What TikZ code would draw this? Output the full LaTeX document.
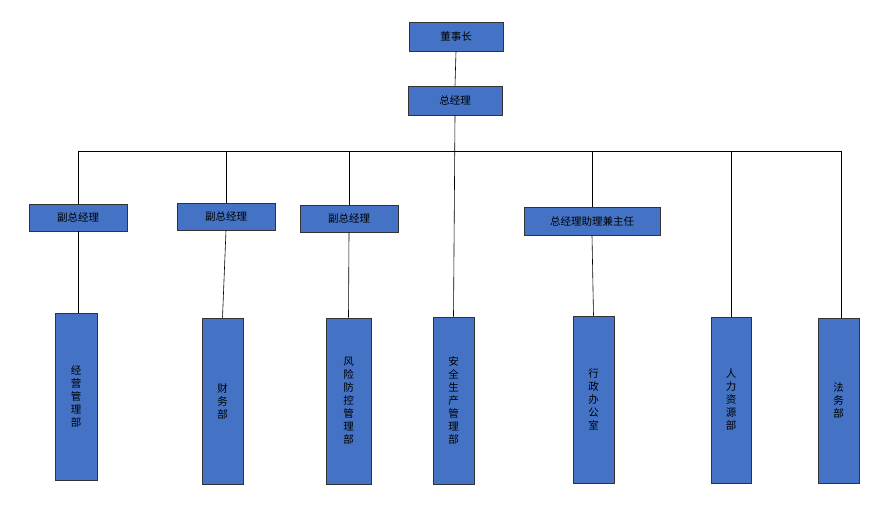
\documentclass[tikz,border=0pt]{standalone}
\usepackage{fontspec}
\setmainfont{Noto Sans CJK SC}
\definecolor{boxblue}{HTML}{4472C4}
\begin{document}
\begin{tikzpicture}[x=1pt,y=-1pt,
  bx/.style={draw=black!80,line width=0.6pt,fill=boxblue,inner sep=0pt,font=\fontsize{10.5}{13}\selectfont},
  ln/.style={draw=black,line width=0.6pt}]
\useasboundingbox (0,0) rectangle (892,515);
\newcommand{\bxn}[6]{\node[bx,minimum width=#3-#1,minimum height=#4-#2,align=center] (#5) at ({(#1+#3)/2},{(#2+#4)/2}) {#6};}
\bxn{409}{22}{503}{51}{dsz}{董事长}
\bxn{408}{86}{502}{115}{zjl}{总经理}
\bxn{29}{204}{127}{231}{f1}{副总经理}
\bxn{177}{203}{275}{230}{f2}{副总经理}
\bxn{300}{205}{398}{232}{f3}{副总经理}
\bxn{524}{207}{660}{235}{zl}{总经理助理兼主任}
\bxn{55}{313}{97}{480}{d1}{经\\营\\管\\理\\部}
\bxn{202}{318}{243}{484}{d2}{财\\务\\部}
\bxn{326}{318}{371}{484}{d3}{风\\险\\防\\控\\管\\理\\部}
\bxn{433}{317}{474}{484}{d4}{安\\全\\生\\产\\管\\理\\部}
\bxn{573}{316}{614}{483}{d5}{行\\政\\办\\公\\室}
\bxn{711}{317}{751}{483}{d6}{人\\力\\资\\源\\部}
\bxn{818}{318}{859}{483}{d7}{法\\务\\部}
\coordinate (hl) at (78,151);
\coordinate (hr) at (841,151);
\draw[ln] (dsz.south) -- (zjl.north);
\draw[ln] (zjl.south) -- (d4.north);
\draw[ln] (hl) -- (hr);
\draw[ln] (hl) -- (f1.north);
\draw[ln] (f1.south) -- (f1.south |- d1.north);
\draw[ln] (f2.north |- hl) -- (f2.north);
\draw[ln] (f2.south) -- (d2.north);
\draw[ln] (f3.north |- hl) -- (f3.north);
\draw[ln] (f3.south) -- (d3.north);
\draw[ln] (zl.north |- hl) -- (zl.north);
\draw[ln] (zl.south) -- (d5.north);
\draw[ln] (d6.north |- hl) -- (d6.north);
\draw[ln] (hr) -- (hr |- d7.north);
\end{tikzpicture}
\end{document}
